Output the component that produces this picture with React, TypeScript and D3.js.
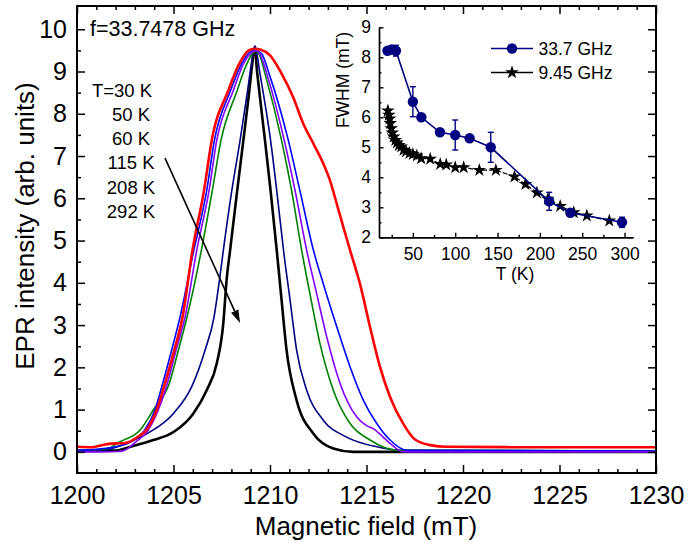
import { useEffect, useRef } from 'react';
import * as d3 from 'd3';

const FONT = 'Arial, "Liberation Sans", Helvetica, sans-serif';

// EPR spectra, [field (mT), intensity (arb. units)]
const SPEC_30K = [
  [1200, 0.12], [1200.8, 0.11], [1201.4, 0.17], [1202.0, 0.2], [1202.5, 0.21], [1203.1, 0.34],
  [1203.6, 0.52], [1204.13, 0.99], [1204.56, 1.62], [1205.04, 2.4], [1205.47, 3.19], [1205.98, 4.76],
  [1206.58, 6.18], [1206.98, 7.37], [1207.84, 8.55], [1208.36, 9.14], [1208.9, 9.5], [1209.2, 9.54],
  [1209.5, 9.52], [1210.0, 9.38], [1210.6, 8.95], [1211.2, 8.39], [1211.73, 7.76], [1212.25, 7.29],
  [1212.76, 6.82], [1213.11, 6.42], [1213.46, 5.87], [1213.8, 5.32], [1214.15, 4.77], [1214.66, 3.98],
  [1215.18, 2.96], [1215.7, 2.01], [1216.22, 1.3], [1216.9, 0.67], [1217.5, 0.3], [1218.3, 0.16],
  [1219.15, 0.12], [1224, 0.11], [1230, 0.11],
];
const SPEC_50K = [
  [1200, 0.04], [1201, 0.06], [1202, 0.12], [1202.8, 0.24], [1203.5, 0.51], [1204.04, 0.99],
  [1204.44, 1.62], [1204.9, 2.4], [1205.34, 3.19], [1206.05, 4.76], [1206.72, 6.18], [1207.12, 7.37],
  [1207.96, 8.55], [1208.48, 9.14], [1209.0, 9.47], [1209.25, 9.5], [1209.57, 9.42], [1209.95, 8.95],
  [1210.95, 7.37], [1211.55, 6.18], [1212.25, 4.77], [1212.76, 3.98], [1213.46, 2.96], [1214.15, 2.01],
  [1214.84, 1.22], [1215.53, 0.67], [1216.22, 0.28], [1217.08, 0.04], [1230, 0.02],
];
const SPEC_60K = [
  [1200, 0], [1201, 0], [1202.2, 0.01], [1202.7, 0.1], [1203.0, 0.22], [1203.69, 0.51],
  [1204.21, 0.99], [1204.68, 1.62], [1205.13, 2.4], [1205.6, 3.19], [1206.2, 4.76], [1206.84, 6.18],
  [1207.24, 7.37], [1208.1, 8.55], [1208.58, 9.14], [1209.05, 9.45], [1209.3, 9.49], [1209.5, 9.4],
  [1209.83, 8.95], [1210.74, 7.37], [1211.3, 6.18], [1211.9, 4.77], [1212.42, 3.74], [1212.94, 2.72],
  [1213.63, 1.62], [1214.49, 0.83], [1215.0, 0.62], [1215.35, 0.55], [1215.7, 0.42], [1216.22, 0.2],
  [1216.9, 0], [1230, 0],
];
const SPEC_115K = [
  [1200, 0.04], [1201, 0.05], [1201.7, 0.1], [1202.23, 0.24], [1203.26, 0.51], [1203.95, 0.99],
  [1204.78, 1.62], [1205.25, 2.4], [1205.7, 3.19], [1206.44, 4.76], [1207.01, 6.18], [1207.46, 7.37],
  [1208.3, 8.55], [1208.76, 9.14], [1209.25, 9.48], [1209.45, 9.4], [1209.74, 8.95], [1210.6, 7.37],
  [1211.12, 6.18], [1211.64, 4.77], [1212.07, 3.74], [1212.59, 2.56], [1213.28, 1.46], [1214.15, 0.67],
  [1215.18, 0.28], [1216.56, 0.04], [1230, 0.02],
];
const SPEC_208K = [
  [1200, 0.02], [1201.5, 0.05], [1202.75, 0.24], [1203.7, 0.45], [1205.0, 0.91], [1205.95, 1.55],
  [1206.63, 2.4], [1207.1, 3.19], [1207.38, 4.06], [1207.58, 4.76], [1208.02, 6.18], [1208.45, 7.37],
  [1208.84, 8.55], [1209.02, 9.14], [1209.22, 9.61], [1209.48, 8.95], [1210.03, 7.37], [1210.35, 6.18],
  [1210.7, 4.77], [1211.04, 3.59], [1211.38, 2.4], [1211.9, 1.46], [1212.76, 0.75], [1213.97, 0.35],
  [1215.53, 0.12], [1216.7, 0.04], [1230, 0.02],
];
const SPEC_292K = [
  [1200, 0.02], [1201.9, 0.03], [1202.9, 0.14], [1203.95, 0.28], [1205.0, 0.47], [1206.03, 0.91],
  [1206.72, 1.46], [1207.24, 2.09], [1207.58, 3.04], [1207.75, 4.06], [1207.93, 4.76], [1208.3, 6.18],
  [1208.62, 7.37], [1208.93, 8.55], [1209.07, 9.14], [1209.2, 9.56], [1209.34, 8.95], [1209.74, 7.37],
  [1210.03, 6.18], [1210.35, 4.77], [1210.6, 3.59], [1210.86, 2.4], [1211.38, 1.22], [1212.25, 0.43],
  [1213.28, 0.08], [1214.32, 0], [1230, 0],
];

const FIELD_TICKS = [1200, 1205, 1210, 1215, 1220, 1225, 1230];
const INTENSITY_TICKS = [0, 1, 2, 3, 4, 5, 6, 7, 8, 9, 10];
const TEMP_LABELS = ['T=30 K', '50 K', '60 K', '115 K', '208 K', '292 K'];
const ARROW = [[1204.56, 6.95], [1208.45, 3.05]];

// inset: FWHM vs temperature
const T_33GHZ = [20, 25, 30, 50, 60, 82, 100, 117, 142, 211, 236, 297];
const FWHM_33GHZ = [8.22, 8.26, 8.22, 6.52, 6.0, 5.5, 5.41, 5.3, 5.0, 3.2, 2.82, 2.5];
const ERR_33GHZ = [0, 0, 0.18, 0.5, 0, 0, 0.5, 0, 0.5, 0.3, 0, 0.17];
const T_945GHZ = [20.5, 21.7, 22.5, 23.3, 24.5, 25.7, 27.3, 29.3, 31.2, 33.5, 36.2, 39, 42, 46, 50, 54.7,
  59.8, 70.5, 82.3, 89.4, 100, 110, 128.5, 148, 170, 183, 196.5, 209.5, 224, 240, 255.5, 282];
const FWHM_945GHZ = [6.22, 6.08, 5.95, 5.8, 5.63, 5.49, 5.35, 5.24, 5.15, 5.07, 5.02, 4.91, 4.86, 4.8, 4.77, 4.72,
  4.63, 4.61, 4.44, 4.42, 4.33, 4.33, 4.24, 4.24, 4.02, 3.77, 3.49, 3.28, 3.04, 2.83, 2.72, 2.55];
const INSET_T_TICKS = [50, 100, 150, 200, 250, 300];
const INSET_W_TICKS = [2, 3, 4, 5, 6, 7, 8, 9];
const LEGEND = ['33.7 GHz', '9.45 GHz'];

const NAVY = '#000080';

export default function App() {
  const ref = useRef<SVGSVGElement | null>(null);

  useEffect(() => {
    const svg = d3.select(ref.current);
    svg.selectAll('*').remove();

    const L = 77, R = 656, T = 6, B = 473;
    const x = d3.scaleLinear().domain([1200, 1230]).range([L, R]);
    const y = d3.scaleLinear().domain([-0.5, 10.55]).range([B, T]);

    // ── spectra ──
    svg.append('defs').append('clipPath').attr('id', 'frame')
      .append('rect').attr('x', L).attr('y', T).attr('width', R - L).attr('height', B - T);
    const line = d3.line<number[]>().x(d => x(d[0])).y(d => y(d[1])).curve(d3.curveMonotoneX);
    const spectra = [
      { pts: SPEC_292K, color: '#000000', w: 2.6 },
      { pts: SPEC_208K, color: NAVY, w: 1.6 },
      { pts: SPEC_115K, color: '#008000', w: 1.6 },
      { pts: SPEC_50K, color: '#0000ff', w: 1.6 },
      { pts: SPEC_60K, color: '#8000ff', w: 1.6 },
      { pts: SPEC_30K, color: '#ff0000', w: 2.6 },
    ];
    const gc = svg.append('g').attr('clip-path', 'url(#frame)');
    spectra.forEach(s => {
      gc.append('path').datum(s.pts).attr('fill', 'none').attr('stroke', s.color)
        .attr('stroke-width', s.w).attr('stroke-linejoin', 'round').attr('d', line);
    });

    // ── main axes ──
    const tidy = (size: number) => (g: any) => {
      g.attr('font-family', FONT).attr('font-size', size);
      g.select('.domain').remove();
      g.selectAll('line').attr('stroke', '#000').attr('stroke-width', 1.5);
      g.selectAll('text').attr('fill', '#000');
    };
    const fieldMinor = d3.range(1200, 1231, 1).filter(v => v % 5 !== 0);
    const intMinor = d3.range(-0.5, 10.5, 1).filter(v => v > -0.5);
    const none = () => '';
    const intFmt = d3.format('d');

    svg.append('g').attr('transform', `translate(0,${B})`)
      .call(d3.axisBottom(x).tickValues(FIELD_TICKS).tickSizeInner(-8).tickSizeOuter(0).tickPadding(13).tickFormat(intFmt))
      .call(tidy(25));
    svg.append('g').attr('transform', `translate(0,${B})`)
      .call(d3.axisBottom(x).tickValues(fieldMinor).tickSizeInner(-4).tickSizeOuter(0).tickFormat(none)).call(tidy(25));
    svg.append('g').attr('transform', `translate(0,${T})`)
      .call(d3.axisTop(x).tickValues(FIELD_TICKS).tickSizeInner(-8).tickSizeOuter(0).tickFormat(none)).call(tidy(25));
    svg.append('g').attr('transform', `translate(0,${T})`)
      .call(d3.axisTop(x).tickValues(fieldMinor).tickSizeInner(-4).tickSizeOuter(0).tickFormat(none)).call(tidy(25));
    svg.append('g').attr('transform', `translate(${L},0)`)
      .call(d3.axisLeft(y).tickValues(INTENSITY_TICKS).tickSizeInner(-8).tickSizeOuter(0).tickPadding(10).tickFormat(intFmt))
      .call(tidy(25));
    svg.append('g').attr('transform', `translate(${L},0)`)
      .call(d3.axisLeft(y).tickValues(intMinor).tickSizeInner(-4).tickSizeOuter(0).tickFormat(none)).call(tidy(25));
    svg.append('g').attr('transform', `translate(${R},0)`)
      .call(d3.axisRight(y).tickValues(INTENSITY_TICKS).tickSizeInner(-8).tickSizeOuter(0).tickFormat(none)).call(tidy(25));
    svg.append('g').attr('transform', `translate(${R},0)`)
      .call(d3.axisRight(y).tickValues(intMinor).tickSizeInner(-4).tickSizeOuter(0).tickFormat(none)).call(tidy(25));

    svg.append('rect').attr('x', L).attr('y', T).attr('width', R - L).attr('height', B - T)
      .attr('fill', 'none').attr('stroke', '#000').attr('stroke-width', 2);

    svg.append('text').attr('x', (L + R) / 2 - 0.5).attr('y', 535).attr('text-anchor', 'middle')
      .attr('font-family', FONT).attr('font-size', 26).text('Magnetic field (mT)');
    svg.append('text').attr('transform', 'translate(34,226) rotate(-90)').attr('text-anchor', 'middle')
      .attr('font-family', FONT).attr('font-size', 26).text('EPR intensity (arb. units)');

    // ── annotations ──
    svg.append('text').attr('x', 90).attr('y', 36).attr('font-family', FONT).attr('font-size', 21.5)
      .text('f=33.7478 GHz');
    const labelX = [122, 131, 131, 131, 131, 131];
    TEMP_LABELS.forEach((t, i) => {
      svg.append('text').attr('x', labelX[i]).attr('y', 96.7 + i * 24.2).attr('text-anchor', 'middle')
        .attr('font-family', FONT).attr('font-size', 18.5).text(t);
    });
    const [a0, a1] = ARROW;
    const ax0 = x(a0[0]), ay0 = y(a0[1]), ax1 = x(a1[0]), ay1 = y(a1[1]);
    const ang = Math.atan2(ay1 - ay0, ax1 - ax0);
    const hl = 13, hw = 4;
    const bx = ax1 - hl * Math.cos(ang), by = ay1 - hl * Math.sin(ang);
    svg.append('line').attr('x1', ax0).attr('y1', ay0).attr('x2', bx).attr('y2', by)
      .attr('stroke', '#000').attr('stroke-width', 1.6);
    svg.append('path').attr('fill', '#000')
      .attr('d', `M${ax1},${ay1}L${bx + hw * Math.sin(ang)},${by - hw * Math.cos(ang)}L${bx - hw * Math.sin(ang)},${by + hw * Math.cos(ang)}Z`);

    // ── inset ──
    const xi = d3.scaleLinear().domain([10, 310]).range([379, 633]);
    const yi = d3.scaleLinear().domain([2, 9]).range([237.3, 27.3]);
    const tidyInset = (g: any) => {
      g.attr('font-family', FONT).attr('font-size', 17.5);
      g.selectAll('line,path').attr('stroke', '#000').attr('stroke-width', 1.4);
      g.selectAll('text').attr('fill', '#000');
    };
    const wMinor = d3.range(2.5, 9, 1);
    const tMinor = d3.range(25, 310, 50);
    svg.append('g').attr('transform', 'translate(379,0)')
      .call(d3.axisLeft(yi).tickValues(INSET_W_TICKS).tickSizeInner(-4.5).tickSizeOuter(0).tickPadding(8).tickFormat(intFmt))
      .call(tidyInset);
    svg.append('g').attr('transform', 'translate(379,0)')
      .call(d3.axisLeft(yi).tickValues(wMinor).tickSizeInner(-2.5).tickSizeOuter(0).tickFormat(none))
      .call(tidyInset);
    svg.append('g').attr('transform', 'translate(0,237.3)')
      .call(d3.axisBottom(xi).tickValues(INSET_T_TICKS).tickSizeInner(-4.5).tickSizeOuter(0).tickPadding(10).tickFormat(intFmt))
      .call(tidyInset);
    svg.append('g').attr('transform', 'translate(0,237.3)')
      .call(d3.axisBottom(xi).tickValues(tMinor).tickSizeInner(-2.5).tickSizeOuter(0).tickFormat(none))
      .call(tidyInset);

    svg.append('text').attr('transform', 'translate(349,80) rotate(-90)').attr('text-anchor', 'middle')
      .attr('font-family', FONT).attr('font-size', 17.5).text('FWHM (mT)');
    svg.append('text').attr('x', 515).attr('y', 280).attr('text-anchor', 'middle')
      .attr('font-family', FONT).attr('font-size', 17.5).text('T (K)');

    const q = T_945GHZ.map((t, i) => [t, FWHM_945GHZ[i]]);
    const p = T_33GHZ.map((t, i) => [t, FWHM_33GHZ[i], ERR_33GHZ[i]]);
    const iline = d3.line<number[]>().x(d => xi(d[0])).y(d => yi(d[1]));

    svg.append('path').datum(q).attr('fill', 'none').attr('stroke', '#000').attr('stroke-width', 1.2)
      .attr('stroke-dasharray', '5,2').attr('d', iline);
    const star = d3.symbol().type(d3.symbolStar).size(58);
    svg.append('g').selectAll('path').data(q).join('path')
      .attr('transform', d => `translate(${xi(d[0])},${yi(d[1])})`).attr('d', star()).attr('fill', '#000');

    svg.append('path').datum(p).attr('fill', 'none').attr('stroke', NAVY).attr('stroke-width', 1.6).attr('d', iline);
    const eb = svg.append('g').attr('stroke', NAVY).attr('stroke-width', 1.4);
    p.filter(d => d[2] > 0).forEach(d => {
      const cx = xi(d[0]), y0 = yi(d[1] - d[2]), y1 = yi(d[1] + d[2]);
      eb.append('line').attr('x1', cx).attr('x2', cx).attr('y1', y0).attr('y2', y1);
      eb.append('line').attr('x1', cx - 3).attr('x2', cx + 3).attr('y1', y0).attr('y2', y0);
      eb.append('line').attr('x1', cx - 3).attr('x2', cx + 3).attr('y1', y1).attr('y2', y1);
    });
    svg.append('g').selectAll('circle').data(p).join('circle')
      .attr('cx', d => xi(d[0])).attr('cy', d => yi(d[1])).attr('r', 5.2).attr('fill', NAVY);

    // legend
    const lg = svg.append('g');
    LEGEND.forEach((name, i) => {
      const ly = 48.5 + i * 24;
      const c = i === 0 ? NAVY : '#000';
      lg.append('line').attr('x1', 491).attr('x2', 533).attr('y1', ly).attr('y2', ly)
        .attr('stroke', c).attr('stroke-width', 1.6);
      if (i === 0) lg.append('circle').attr('cx', 512).attr('cy', ly).attr('r', 5.2).attr('fill', c);
      else lg.append('path').attr('transform', `translate(512,${ly})`).attr('d', star()).attr('fill', c);
      lg.append('text').attr('x', 538.5).attr('y', ly + 6.5).attr('font-family', FONT).attr('font-size', 17.5).text(name);
    });
  }, []);

  return (
    <svg ref={ref} width={688} height={546}
      style={{ position: 'absolute', left: 0, top: 0, background: '#fff', display: 'block' }} />
  );
}
